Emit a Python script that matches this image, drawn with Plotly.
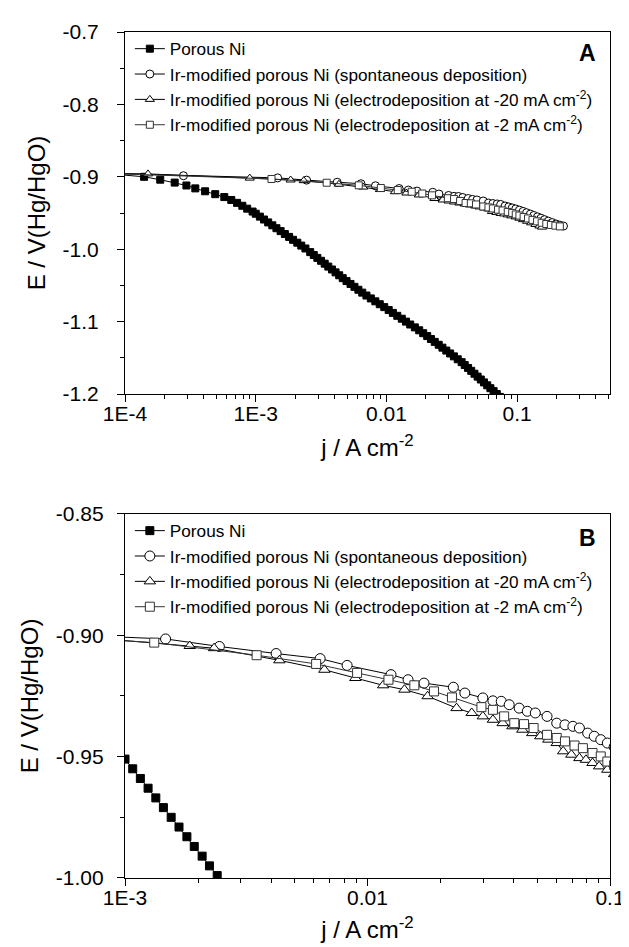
import plotly.graph_objects as go

# ---------------- data ----------------
# Porous Ni
j_ni = [9.0e-5, 1.40e-4, 1.86e-4, 2.40e-4, 2.95e-4, 3.45e-4, 4.10e-4, 4.90e-4, 5.75e-4, 6.50e-4,
        7.20e-4, 7.90e-4, 8.60e-4, 9.46e-4, 1.00e-3, 1.076e-3, 1.157e-3, 1.245e-3, 1.34e-3, 1.44e-3,
        1.55e-3, 1.67e-3, 1.80e-3, 1.93e-3, 2.08e-3, 2.23e-3, 2.40e-3, 2.61e-3, 2.78e-3, 2.96e-3,
        3.16e-3, 3.37e-3, 3.59e-3, 3.83e-3, 4.08e-3, 4.35e-3, 4.63e-3, 4.95e-3, 5.31e-3, 5.69e-3,
        6.10e-3, 6.53e-3, 7.03e-3, 7.60e-3, 8.22e-3, 8.89e-3, 9.62e-3, 1.04e-2, 1.12e-2, 1.21e-2,
        1.31e-2, 1.41e-2, 1.52e-2, 1.65e-2, 1.78e-2, 1.91e-2, 2.05e-2, 2.19e-2, 2.34e-2, 2.51e-2,
        2.68e-2, 2.87e-2, 3.07e-2, 3.28e-2, 3.51e-2, 3.76e-2, 3.97e-2, 4.21e-2, 4.45e-2, 4.71e-2,
        4.98e-2, 5.27e-2, 5.57e-2, 5.90e-2, 6.24e-2, 6.60e-2, 6.98e-2, 7.38e-2]
E_ni = [-0.897, -0.900, -0.904, -0.908, -0.912, -0.916, -0.920, -0.924, -0.928, -0.932,
        -0.936, -0.940, -0.944, -0.948, -0.951, -0.955, -0.959, -0.963, -0.967, -0.971,
        -0.975, -0.979, -0.983, -0.987, -0.991, -0.995, -0.999, -1.004, -1.008, -1.012,
        -1.016, -1.020, -1.024, -1.028, -1.032, -1.036, -1.040, -1.044, -1.048, -1.052,
        -1.056, -1.060, -1.064, -1.068, -1.072, -1.076, -1.080, -1.084, -1.088, -1.092,
        -1.096, -1.100, -1.104, -1.108, -1.112, -1.116, -1.120, -1.124, -1.128, -1.132,
        -1.136, -1.140, -1.144, -1.148, -1.152, -1.156, -1.160, -1.164, -1.168, -1.172,
        -1.176, -1.180, -1.184, -1.188, -1.192, -1.196, -1.200, -1.204]

# Ir-modified porous Ni (spontaneous deposition)
j_sp = [8.0e-5, 2.8e-4, 1.47e-3, 2.45e-3, 4.2e-3, 6.38e-3, 8.24e-3, 1.25e-2, 1.47e-2, 1.71e-2,
        2.26e-2, 2.52e-2, 2.99e-2, 3.29e-2, 3.56e-2, 3.84e-2, 4.22e-2, 4.56e-2, 4.92e-2, 5.50e-2,
        6.03e-2, 6.52e-2, 7.03e-2, 7.48e-2, 8.09e-2, 8.61e-2, 9.16e-2, 9.75e-2, 0.104, 0.111,
        0.118, 0.126, 0.134, 0.143, 0.152, 0.162, 0.173, 0.185, 0.198, 0.212, 0.226]
E_sp = [-0.8955, -0.8985, -0.9015, -0.9046, -0.9075, -0.9096, -0.9124, -0.9162, -0.9183, -0.9197,
        -0.9214, -0.9238, -0.9258, -0.9270, -0.9272, -0.9286, -0.9300, -0.9313, -0.9320, -0.9334,
        -0.9362, -0.9369, -0.9375, -0.9382, -0.9403, -0.9416, -0.9430, -0.9444, -0.9460, -0.9478,
        -0.9496, -0.9515, -0.9534, -0.9553, -0.9572, -0.9592, -0.9612, -0.9632, -0.9652, -0.9668, -0.9680]

# Ir-modified porous Ni (electrodeposition at -20 mA cm-2)
j_20 = [8.0e-5, 1.5e-4, 9.0e-4, 1.85e-3, 2.33e-3, 4.33e-3, 6.64e-3, 8.91e-3, 1.16e-2, 1.42e-2,
        1.77e-2, 2.33e-2, 2.69e-2, 2.99e-2, 3.29e-2, 3.61e-2, 3.96e-2, 4.35e-2, 4.78e-2, 5.16e-2,
        5.57e-2, 6.03e-2, 6.41e-2, 6.93e-2, 7.48e-2, 7.96e-2, 8.47e-2, 9.02e-2, 9.75e-2, 0.104,
        0.111, 0.119, 0.128, 0.138, 0.148, 0.155]
E_20 = [-0.8955, -0.8960, -0.9018, -0.9044, -0.9053, -0.9103, -0.9142, -0.9176, -0.9206, -0.9224,
        -0.9251, -0.9300, -0.9320, -0.9334, -0.9348, -0.9362, -0.9375, -0.9389, -0.9403, -0.9416,
        -0.9430, -0.9444, -0.9478, -0.9492, -0.9506, -0.9513, -0.9526, -0.9540, -0.9554, -0.9572,
        -0.9592, -0.9614, -0.9636, -0.9658, -0.9680, -0.9695]

# Ir-modified porous Ni (electrodeposition at -2 mA cm-2)
j_2 = [8.0e-5, 1.32e-3, 3.49e-3, 6.14e-3, 9.06e-3, 1.22e-2, 1.56e-2, 1.88e-2, 2.23e-2, 2.95e-2,
       3.29e-2, 3.66e-2, 4.03e-2, 4.42e-2, 4.84e-2, 5.50e-2, 6.03e-2, 6.52e-2, 7.14e-2, 7.73e-2,
       8.47e-2, 9.16e-2, 9.75e-2, 0.104, 0.112, 0.121, 0.131, 0.142, 0.154, 0.167,
       0.181, 0.196, 0.212]
E_2 = [-0.8955, -0.9030, -0.9082, -0.9118, -0.9155, -0.9183, -0.9206, -0.9231, -0.9256, -0.9296,
       -0.9307, -0.9334, -0.9362, -0.9366, -0.9382, -0.9410, -0.9423, -0.9437, -0.9454, -0.9465,
       -0.9485, -0.9499, -0.9520, -0.9535, -0.9555, -0.9575, -0.9595, -0.9615, -0.9635, -0.9652,
       -0.9665, -0.9675, -0.9685]

names = ["Porous Ni",
         "Ir-modified porous Ni (spontaneous deposition)",
         "Ir-modified porous Ni (electrodeposition at -20 mA cm<sup>-2</sup>)",
         "Ir-modified porous Ni (electrodeposition at -2 mA cm<sup>-2</sup>)"]

# tick labels
xA_vals = [1e-4, 1e-3, 1e-2, 1e-1]
xA_text = ["1E-4", "1E-3", "0.01", "0.1"]
xB_vals = [1e-3, 1e-2, 1e-1]
xB_text = ["1E-3", "0.01", "0.1"]
yA_vals = [-0.7, -0.8, -0.9, -1.0, -1.1, -1.2]
yA_text = ["-0.7", "-0.8", "-0.9", "-1.0", "-1.1", "-1.2"]
yB_vals = [-0.85, -0.90, -0.95, -1.00]
yB_text = ["-0.85", "-0.90", "-0.95", "-1.00"]

# ---------------- figure ----------------
FONT = "Liberation Sans, Arial, Helvetica, sans-serif"
series = [
    (j_ni, E_ni, "square", "black", "black"),
    (j_sp, E_sp, "circle", "white", "black"),
    (j_20, E_20, "triangle-up", "white", "black"),
    (j_2, E_2, "square", "white", "#333333"),
]
# marker sizes per panel: (panel A, panel B)
sizes = [(7, 8), (8, 10), (8, 10), (7, 9)]

fig = go.Figure()
for p, (xa, ya, leg) in enumerate([("x", "y", "legend"), ("x2", "y2", "legend2")]):
    for (j, E, sym, fill, lc), nm, sz in zip(series, names, sizes):
        fig.add_trace(go.Scatter(
            x=j, y=E, mode="lines+markers", name=nm, xaxis=xa, yaxis=ya, legend=leg,
            line=dict(color=lc, width=1),
            marker=dict(symbol=sym, size=sz[p], color=fill, line=dict(color=lc, width=1)),
        ))

def minor_log(lo_exp, hi_exp, extra=()):
    vals = []
    for e in range(lo_exp, hi_exp):
        for m in range(2, 10):
            vals.append(m * 10 ** e)
    return vals + list(extra)

axis_common = dict(showgrid=False, zeroline=False, showline=True, linecolor="black", linewidth=1.2,
                   mirror=True, ticks="outside", ticklen=7, tickwidth=1, tickcolor="black",
                   tickfont=dict(family=FONT, size=21, color="black"))
title_font = dict(family=FONT, size=24, color="black")
legend_font = dict(family=FONT, size=17.2, color="black")

fig.update_layout(
    width=629, height=947,
    margin=dict(l=117, r=18, t=24, b=77),
    paper_bgcolor="white", plot_bgcolor="white",
    font=dict(family=FONT, color="black"),
    showlegend=True,
    xaxis=dict(axis_common, type="log", range=[-4, -0.29], domain=[0, 1], anchor="y",
               tickmode="array", tickvals=xA_vals, ticktext=xA_text, ticklabelstandoff=-6,
               minor=dict(tickmode="array", tickvals=minor_log(-4, -1, [0.2, 0.3, 0.4, 0.5]),
                          ticks="outside", ticklen=4, tickcolor="black"),
               title=dict(text="j / A cm<sup>-2</sup>", font=title_font, standoff=14)),
    yaxis=dict(axis_common, range=[-1.2, -0.7], domain=[0.5721, 1], anchor="x",
               tickmode="array", tickvals=yA_vals, ticktext=yA_text, ticklabelstandoff=14,
               minor=dict(tickmode="array", tickvals=[-0.75, -0.85, -0.95, -1.05, -1.15],
                          ticks="outside", ticklen=4, tickcolor="black"),
               title=dict(text="E / V(Hg/HgO)", font=title_font, standoff=10)),
    xaxis2=dict(axis_common, type="log", range=[-3, -1], domain=[0, 1], anchor="y2",
                tickmode="array", tickvals=xB_vals, ticktext=xB_text, ticklabelstandoff=-6,
                minor=dict(tickmode="array", tickvals=minor_log(-3, -1),
                           ticks="outside", ticklen=4, tickcolor="black"),
                title=dict(text="j / A cm<sup>-2</sup>", font=title_font, standoff=12)),
    yaxis2=dict(axis_common, range=[-1.0, -0.85], domain=[0, 0.4303], anchor="x2",
                tickmode="array", tickvals=yB_vals, ticktext=yB_text, ticklabelstandoff=9,
                minor=dict(tickmode="array", tickvals=[-0.875, -0.925, -0.975],
                           ticks="outside", ticklen=4, tickcolor="black"),
                title=dict(text="E / V(Hg/HgO)", font=title_font, standoff=10)),
    legend=dict(x=0.01, y=1.0012, xanchor="left", yanchor="top", bgcolor="rgba(0,0,0,0)",
                font=legend_font, tracegroupgap=0),
    legend2=dict(x=0.01, y=0.4315, xanchor="left", yanchor="top", bgcolor="rgba(0,0,0,0)",
                 font=legend_font, tracegroupgap=0),
    annotations=[
        dict(text="<b>A</b>", x=0.9534, y=0.9752, xref="paper", yref="paper", showarrow=False,
             xanchor="center", yanchor="middle", font=dict(family=FONT, size=23, color="black")),
        dict(text="<b>B</b>", x=0.9534, y=0.4019, xref="paper", yref="paper", showarrow=False,
             xanchor="center", yanchor="middle", font=dict(family=FONT, size=23, color="black")),
    ],
)

fig.write_html("out.html")
